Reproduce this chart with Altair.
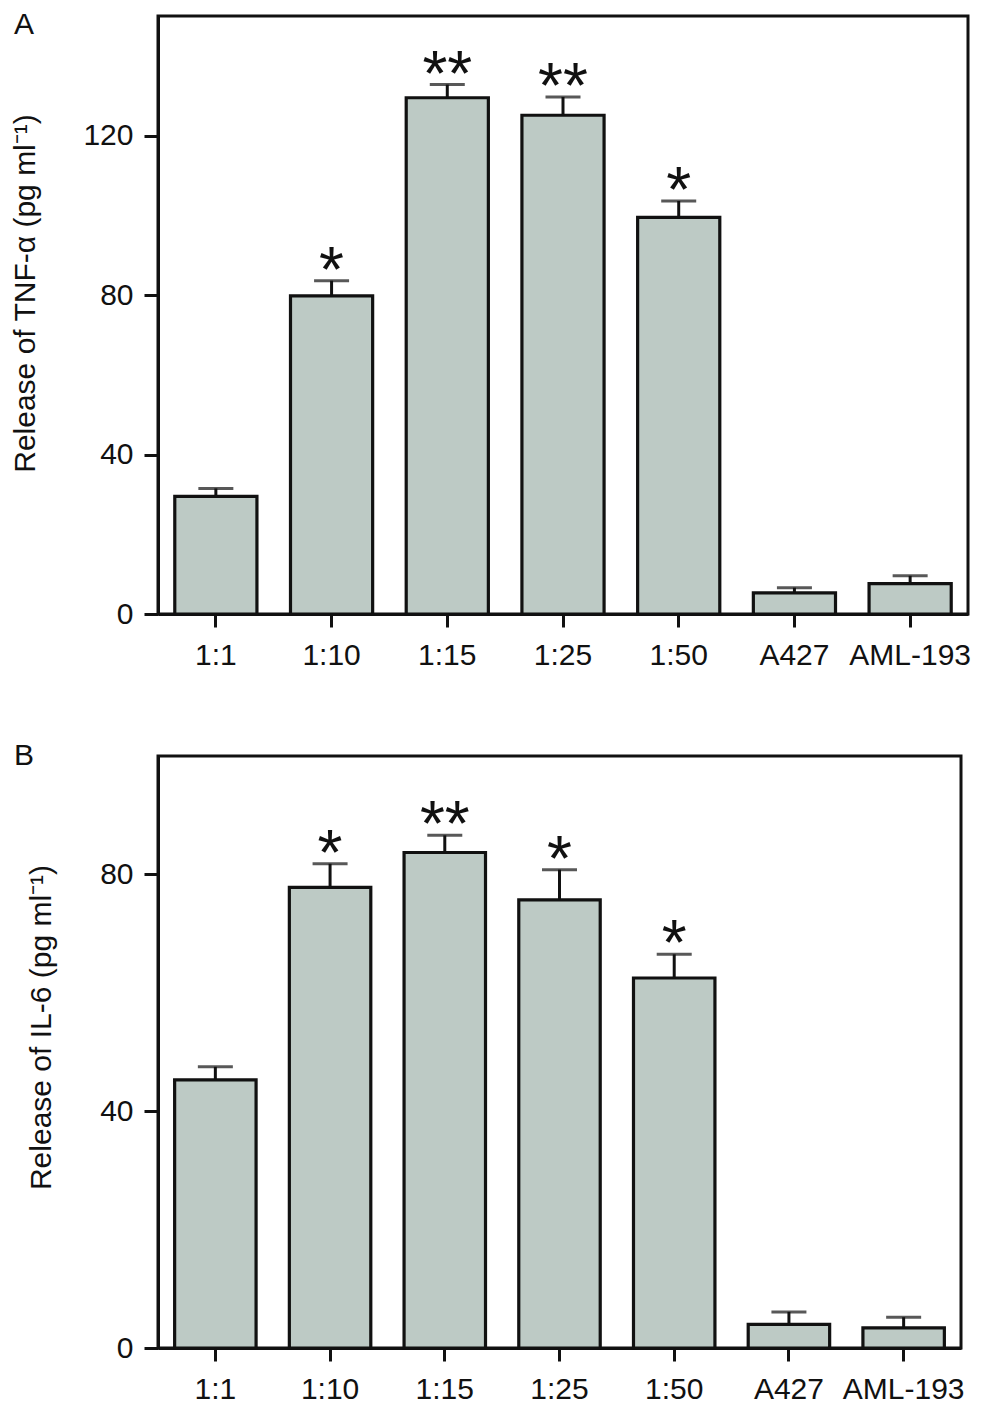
import pandas as pd
import altair as alt

# Data
groups = ["1:1", "1:10", "1:15", "1:25", "1:50", "A427", "AML-193"]

tnf_mean = [29.5, 79.8, 129.5, 125.1, 99.5, 5.3, 7.6]
tnf_upper = [31.5, 83.6, 132.8, 129.7, 103.6, 6.6, 9.6]
tnf_sig = ["", "*", "**", "**", "*", "", ""]

il6_mean = [45.3, 77.8, 83.7, 75.7, 62.5, 4.0, 3.4]
il6_upper = [47.5, 81.8, 86.6, 80.8, 66.5, 6.1, 5.2]
il6_sig = ["", "*", "**", "*", "*", "", ""]

tnf_ticks = [0, 40, 80, 120]
il6_ticks = [0, 40, 80]

FONT = "Liberation Sans"
INK = "#111111"
FILL = "#bdcac5"


def panel(mean, upper, sig, ymax, ticks, ytitle, letter, letter_y,
          width, height, title_x, title_y):
    df = pd.DataFrame({"group": groups, "mean": mean, "upper": upper, "sig": sig})
    base = alt.Chart(df)

    x = alt.X(
        "group:N", sort=groups,
        scale=alt.Scale(paddingInner=0.29, paddingOuter=0.145),
        axis=alt.Axis(title=None, labelAngle=0, tickSize=13, labelPadding=13),
    )
    y_scale = alt.Scale(domain=[0, ymax], nice=False)

    bars = base.mark_bar(fill=FILL, stroke=INK, strokeWidth=3.2).encode(
        x=x,
        y=alt.Y(
            "mean:Q", scale=y_scale,
            axis=alt.Axis(
                values=ticks, title=ytitle, tickSize=14, labelPadding=11,
                titleX=title_x, titleY=title_y, titleAngle=-90,
                titleAlign="center", titleBaseline="alphabetic",
            ),
        ),
    )
    err = base.mark_rule(color=INK, strokeWidth=3).encode(
        x=alt.X("group:N", sort=groups), y="mean:Q", y2="upper:Q"
    )
    cap = base.mark_tick(color=INK, orient="horizontal", size=35, thickness=3).encode(
        x=alt.X("group:N", sort=groups), y="upper:Q"
    )
    stars = base.mark_text(
        font=FONT, fontSize=64, color=INK, baseline="middle", dy=-8
    ).encode(x=alt.X("group:N", sort=groups), y="upper:Q", text="sig:N")

    tag = alt.Chart(pd.DataFrame({"t": [letter]})).mark_text(
        font=FONT, fontSize=30, color=INK, align="left", baseline="middle"
    ).encode(x=alt.value(-144), y=alt.value(letter_y), text="t:N")

    return (bars + err + cap + stars + tag).properties(width=width, height=height)


chart_a = panel(tnf_mean, tnf_upper, tnf_sig, 150, tnf_ticks,
                "Release of TNF-α (pg ml⁻¹)", "A", 9, 810, 598, -124, 277)
chart_b = panel(il6_mean, il6_upper, il6_sig, 100, il6_ticks,
                "Release of IL-6 (pg ml⁻¹)", "B", 0, 803, 592, -108, 271)

chart = (
    alt.vconcat(chart_a, chart_b, spacing=67)
    .properties(padding={"left": 0, "top": 0, "right": 5, "bottom": 0}, background="white")
    .configure_view(stroke=INK, strokeWidth=3)
    .configure_axis(
        grid=False, domainColor=INK, domainWidth=3, tickColor=INK, tickWidth=3,
        labelFont=FONT, labelFontSize=30, labelColor=INK,
        titleFont=FONT, titleFontSize=30, titleFontWeight="normal", titleColor=INK,
    )
)

chart.save("out.html", embed_options={"renderer": "svg", "actions": False})
